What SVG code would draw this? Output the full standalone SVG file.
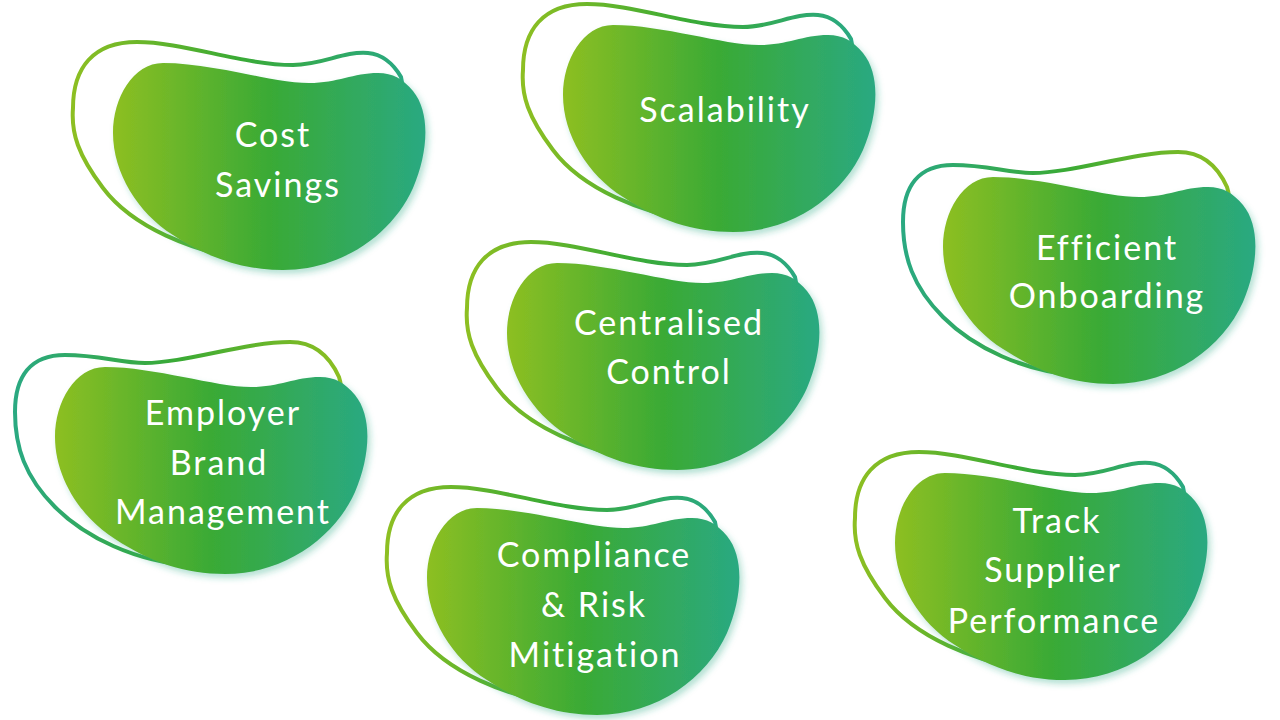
<svg xmlns="http://www.w3.org/2000/svg" width="1280" height="720" viewBox="0 0 1280 720">
  <defs>
    <linearGradient id="gFill" x1="0" y1="0" x2="1" y2="0">
      <stop offset="0" stop-color="#8dbf22"/>
      <stop offset="0.5" stop-color="#3aaa35"/>
      <stop offset="1" stop-color="#2aa981"/>
    </linearGradient>
    <linearGradient id="gLineA" x1="0" y1="0" x2="1" y2="0">
      <stop offset="0" stop-color="#8dbf22"/>
      <stop offset="0.5" stop-color="#3aaa35"/>
      <stop offset="1" stop-color="#2aa981"/>
    </linearGradient>
    <linearGradient id="gLineB" x1="0" y1="0" x2="1" y2="0">
      <stop offset="0" stop-color="#2aa981"/>
      <stop offset="0.5" stop-color="#3aaa35"/>
      <stop offset="1" stop-color="#8dbf22"/>
    </linearGradient>
    <filter id="glow" x="-10%" y="-10%" width="125%" height="130%">
      <feDropShadow dx="3" dy="4" stdDeviation="3" flood-color="#2aa981" flood-opacity="0.35"/>
    </filter>
    <path id="blob" d="M 0,70 C 0,110 25,150 60,172 C 95,195 130,207 170,207 C 230,207 280,170 300,125 C 315,90 318,50 300,28 C 290,16 280,10 265,10 C 240,10 225,20 196,20 C 160,20 100,0 50,0 C 20,0 0,35 0,70 Z"/>
    <path id="outA" d="M 135,197 C 80,188 20,165 -10,125 C -35,92 -42,70 -40,45 C -40,5 -20,-21 24,-21 C 70,-21 130,2 180,2 C 210,2 230,-12 255,-10 C 268,-9 280,0 288,14 C 300,60 250,170 135,197 Z"/>
    <path id="outB" d="M 140,199 C 80,195 30,170 0,140 C -30,110 -40,80 -40,45 C -40,10 -25,-12 10,-12 C 45,-12 65,-4 90,-4 C 130,-4 190,-25 235,-25 C 260,-25 275,-10 284,10 C 300,60 250,170 140,199 Z"/>
  </defs>
  <style>
    .fill { fill: url(#gFill); filter: url(#glow); }
    .outA { fill: none; stroke: url(#gLineA); stroke-width: 4; }
    .outB { fill: none; stroke: url(#gLineB); stroke-width: 4; }
    .lbl { font-family: Lato, "Liberation Sans", sans-serif; font-size: 34px; letter-spacing: 2px; fill: #ffffff; text-anchor: middle; }
  </style>
  <rect width="1280" height="720" fill="#ffffff"/>
  <g id="connectors"/>

  <g id="node-cost-savings" transform="translate(113,63)">
    <use href="#outA" class="outA"/>
    <use href="#blob" class="fill"/>
    <text class="lbl" x="160" y="84">Cost</text>
    <text class="lbl" x="165" y="134">Savings</text>
  </g>

  <g id="node-scalability" transform="translate(563,25)">
    <use href="#outA" class="outA"/>
    <use href="#blob" class="fill"/>
    <text class="lbl" x="162" y="97">Scalability</text>
  </g>

  <g id="node-efficient-onboarding" transform="translate(943,177)">
    <use href="#outB" class="outB"/>
    <use href="#blob" class="fill"/>
    <text class="lbl" x="164" y="83">Efficient</text>
    <text class="lbl" x="164" y="131">Onboarding</text>
  </g>

  <g id="node-centralised-control" transform="translate(507,263)">
    <use href="#outA" class="outA"/>
    <use href="#blob" class="fill"/>
    <text class="lbl" x="162" y="72">Centralised</text>
    <text class="lbl" x="162" y="121">Control</text>
  </g>

  <g id="node-employer-brand" transform="translate(55,367)">
    <use href="#outB" class="outB"/>
    <use href="#blob" class="fill"/>
    <text class="lbl" x="168" y="58">Employer</text>
    <text class="lbl" x="164" y="108">Brand</text>
    <text class="lbl" x="168" y="157">Management</text>
  </g>

  <g id="node-compliance" transform="translate(427,508)">
    <use href="#outA" class="outA"/>
    <use href="#blob" class="fill"/>
    <text class="lbl" x="167" y="59">Compliance</text>
    <text class="lbl" x="167" y="109">&amp; Risk</text>
    <text class="lbl" x="168" y="159">Mitigation</text>
  </g>

  <g id="node-track-supplier" transform="translate(895,473)">
    <use href="#outA" class="outA"/>
    <use href="#blob" class="fill"/>
    <text class="lbl" x="162" y="60">Track</text>
    <text class="lbl" x="158" y="109">Supplier</text>
    <text class="lbl" x="159" y="160">Performance</text>
  </g>
</svg>
